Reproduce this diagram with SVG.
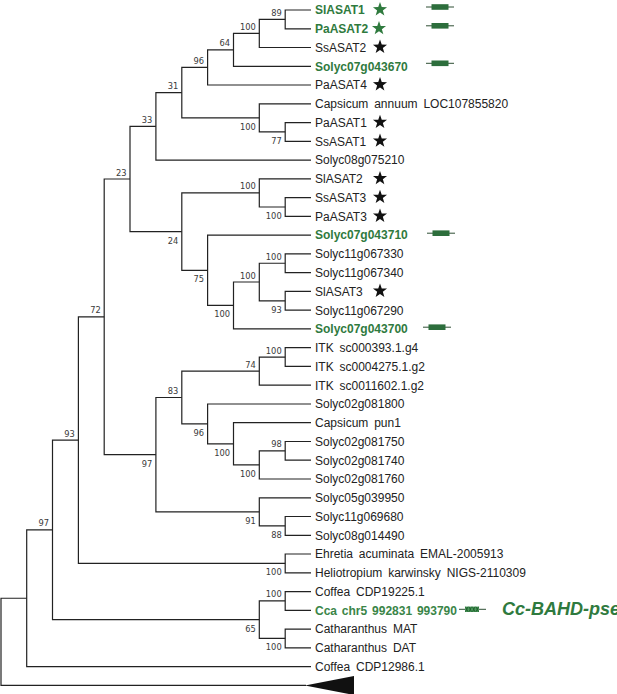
<svg xmlns="http://www.w3.org/2000/svg" xmlns:xlink="http://www.w3.org/1999/xlink" width="617" height="694" viewBox="0 0 617 694">
<style>
.br{fill:none;stroke:#222;stroke-width:1.2}
.lf{font-family:"Liberation Sans",Arial,sans-serif;font-size:12px;fill:#222;word-spacing:2.5px}
.lg{font-family:"Liberation Sans",Arial,sans-serif;font-size:12px;font-weight:bold;fill:#2f7a3e}
.lc{font-family:"Liberation Sans",Arial,sans-serif;font-size:12px;font-weight:bold;fill:#3a8548;word-spacing:1.5px}
.bs{font-family:"DejaVu Sans",Verdana,sans-serif;font-size:8.3px;fill:#3a3a3a;text-anchor:end}
.sb{fill:#111}
.sg{fill:#2f7a3e}
.big{font-family:"Liberation Sans",Arial,sans-serif;font-size:18px;font-weight:bold;font-style:italic;fill:#2f7a3e}
</style>
<defs>
<polygon id="star" points="0,-7.4 1.76,-2.42 7.04,-2.29 2.85,0.93 4.35,5.99 0,3.0 -4.35,5.99 -2.85,0.93 -7.04,-2.29 -1.76,-2.42"/>
<g id="gene"><line x1="-14" y1="0" x2="14" y2="0" stroke="#2f4f35" stroke-width="1"/><rect x="-8.5" y="-2.8" width="17" height="5.6" fill="#2d6e3c"/></g>
</defs>
<g id="branches">
<path class="br" d="M311 10 H285.2 V28.8 H311"/>
<path class="br" d="M285.2 19.4 H259.3 V47.5 H311"/>
<path class="br" d="M259.3 33.45 H233.5 V66.3 H311"/>
<path class="br" d="M233.5 49.9 H207.6 V85 H311"/>
<path class="br" d="M311 122.6 H285.2 V141.3 H311"/>
<path class="br" d="M311 103.8 H259.3 V131.95 H285.2"/>
<path class="br" d="M207.6 67.45 H181.8 V117.9 H259.3"/>
<path class="br" d="M181.8 92.7 H155.9 V160.1 H311"/>
<path class="br" d="M311 197.6 H285.2 V216.4 H311"/>
<path class="br" d="M311 178.8 H259.3 V207 H285.2"/>
<path class="br" d="M311 253.9 H285.2 V272.6 H311"/>
<path class="br" d="M311 291.4 H285.2 V310.2 H311"/>
<path class="br" d="M285.2 263.25 H259.3 V300.8 H285.2"/>
<path class="br" d="M259.3 282 H233.5 V328.9 H311"/>
<path class="br" d="M311 235.1 H207.6 V305.45 H233.5"/>
<path class="br" d="M259.3 192.9 H181.8 V270.3 H207.6"/>
<path class="br" d="M155.9 126.4 H130 V231.6 H181.8"/>
<path class="br" d="M311 347.7 H285.2 V366.4 H311"/>
<path class="br" d="M285.2 357.05 H259.3 V385.2 H311"/>
<path class="br" d="M311 441.5 H285.2 V460.2 H311"/>
<path class="br" d="M285.2 450.85 H259.3 V479 H311"/>
<path class="br" d="M311 422.7 H233.5 V464.9 H259.3"/>
<path class="br" d="M311 404 H207.6 V443.8 H233.5"/>
<path class="br" d="M259.3 371.1 H181.8 V423.9 H207.6"/>
<path class="br" d="M311 516.5 H285.2 V535.3 H311"/>
<path class="br" d="M311 497.8 H259.3 V525.9 H285.2"/>
<path class="br" d="M181.8 397.5 H155.9 V511.85 H259.3"/>
<path class="br" d="M130 179 H104.2 V454.7 H155.9"/>
<path class="br" d="M311 554 H285.2 V572.8 H311"/>
<path class="br" d="M104.2 316.85 H78.4 V563.4 H285.2"/>
<path class="br" d="M311 591.6 H285.2 V610.3 H311"/>
<path class="br" d="M311 629.1 H285.2 V647.8 H311"/>
<path class="br" d="M285.2 600.95 H259.3 V638.45 H285.2"/>
<path class="br" d="M78.4 440.1 H52.5 V619.7 H259.3"/>
<path class="br" d="M52.5 529.9 H26.7 V666.6 H311"/>
<path class="br" d="M26.7 598.25 H1 V685.4 H306"/>
<polygon id="collapsed" points="305,685.4 354,676 354,695" fill="#111"/>
</g>
<g id="support">
<text class="bs" x="281.7" y="15.9">89</text>
<text class="bs" x="255.8" y="29.95">100</text>
<text class="bs" x="230" y="46.4">64</text>
<text class="bs" x="204.1" y="63.95">96</text>
<text class="bs" x="281.7" y="143.95">77</text>
<text class="bs" x="255.8" y="129.9">100</text>
<text class="bs" x="178.3" y="89.2">31</text>
<text class="bs" x="152.4" y="122.9">33</text>
<text class="bs" x="281.7" y="219">100</text>
<text class="bs" x="255.8" y="189.4">100</text>
<text class="bs" x="281.7" y="259.75">100</text>
<text class="bs" x="281.7" y="312.8">93</text>
<text class="bs" x="255.8" y="278.5">100</text>
<text class="bs" x="230" y="317.45">100</text>
<text class="bs" x="204.1" y="282.3">75</text>
<text class="bs" x="178.3" y="243.6">24</text>
<text class="bs" x="126.5" y="175.5">23</text>
<text class="bs" x="281.7" y="353.55">100</text>
<text class="bs" x="255.8" y="367.6">74</text>
<text class="bs" x="281.7" y="447.35">98</text>
<text class="bs" x="255.8" y="476.9">100</text>
<text class="bs" x="230" y="455.8">100</text>
<text class="bs" x="204.1" y="435.9">96</text>
<text class="bs" x="178.3" y="394">83</text>
<text class="bs" x="281.7" y="537.9">88</text>
<text class="bs" x="255.8" y="523.85">91</text>
<text class="bs" x="152.4" y="466.7">97</text>
<text class="bs" x="100.7" y="313.35">72</text>
<text class="bs" x="281.7" y="575.4">100</text>
<text class="bs" x="74.9" y="436.6">93</text>
<text class="bs" x="281.7" y="597.45">100</text>
<text class="bs" x="281.7" y="650.45">100</text>
<text class="bs" x="255.8" y="631.7">65</text>
<text class="bs" x="49" y="526.4">97</text>
</g>
<g id="leaf-SlASAT1"><text class="lg" x="315" y="14.3">SlASAT1</text><use href="#star" class="sg" x="380" y="9.5"/><use href="#gene" x="440" y="7"/></g>
<g id="leaf-PaASAT2"><text class="lg" x="315" y="33.1">PaASAT2</text><use href="#star" class="sg" x="379" y="28.3"/><use href="#gene" x="440" y="25.8"/></g>
<g id="leaf-SsASAT2"><text class="lf" x="315" y="51.8">SsASAT2</text><use href="#star" class="sb" x="380" y="47"/></g>
<g id="leaf-Solyc07g043670"><text class="lg" x="315" y="70.6">Solyc07g043670</text><use href="#gene" x="440" y="63.3"/></g>
<g id="leaf-PaASAT4"><text class="lf" x="315" y="89.3">PaASAT4</text><use href="#star" class="sb" x="380" y="84.5"/></g>
<g id="leaf-Capsicum-LOC"><text class="lf" x="315" y="108.1">Capsicum annuum LOC107855820</text></g>
<g id="leaf-PaASAT1"><text class="lf" x="315" y="126.9">PaASAT1</text><use href="#star" class="sb" x="380" y="122.1"/></g>
<g id="leaf-SsASAT1"><text class="lf" x="315" y="145.6">SsASAT1</text><use href="#star" class="sb" x="380" y="140.8"/></g>
<g id="leaf-Solyc08g075210"><text class="lf" x="315" y="164.4">Solyc08g075210</text></g>
<g id="leaf-SlASAT2"><text class="lf" x="315" y="183.1">SlASAT2</text><use href="#star" class="sb" x="380" y="178.3"/></g>
<g id="leaf-SsASAT3"><text class="lf" x="315" y="201.9">SsASAT3</text><use href="#star" class="sb" x="380" y="197.1"/></g>
<g id="leaf-PaASAT3"><text class="lf" x="315" y="220.7">PaASAT3</text><use href="#star" class="sb" x="380" y="215.9"/></g>
<g id="leaf-Solyc07g043710"><text class="lg" x="315" y="239.4">Solyc07g043710</text><use href="#gene" x="441" y="233.2"/></g>
<g id="leaf-Solyc11g067330"><text class="lf" x="315" y="258.2">Solyc11g067330</text></g>
<g id="leaf-Solyc11g067340"><text class="lf" x="315" y="276.9">Solyc11g067340</text></g>
<g id="leaf-SlASAT3"><text class="lf" x="315" y="295.7">SlASAT3</text><use href="#star" class="sb" x="380" y="290.9"/></g>
<g id="leaf-Solyc11g067290"><text class="lf" x="315" y="314.5">Solyc11g067290</text></g>
<g id="leaf-Solyc07g043700"><text class="lg" x="315" y="333.2">Solyc07g043700</text><use href="#gene" x="437" y="327.2"/></g>
<g id="leaf-ITK393"><text class="lf" x="315" y="352">ITK sc000393.1.g4</text></g>
<g id="leaf-ITK4275"><text class="lf" x="315" y="370.7">ITK sc0004275.1.g2</text></g>
<g id="leaf-ITK11602"><text class="lf" x="315" y="389.5">ITK sc0011602.1.g2</text></g>
<g id="leaf-Solyc02g081800"><text class="lf" x="315" y="408.3">Solyc02g081800</text></g>
<g id="leaf-Capsicum-pun1"><text class="lf" x="315" y="427">Capsicum pun1</text></g>
<g id="leaf-Solyc02g081750"><text class="lf" x="315" y="445.8">Solyc02g081750</text></g>
<g id="leaf-Solyc02g081740"><text class="lf" x="315" y="464.5">Solyc02g081740</text></g>
<g id="leaf-Solyc02g081760"><text class="lf" x="315" y="483.3">Solyc02g081760</text></g>
<g id="leaf-Solyc05g039950"><text class="lf" x="315" y="502.1">Solyc05g039950</text></g>
<g id="leaf-Solyc11g069680"><text class="lf" x="315" y="520.8">Solyc11g069680</text></g>
<g id="leaf-Solyc08g014490"><text class="lf" x="315" y="539.6">Solyc08g014490</text></g>
<g id="leaf-Ehretia"><text class="lf" x="315" y="558.3">Ehretia acuminata EMAL-2005913</text></g>
<g id="leaf-Heliotropium"><text class="lf" x="315" y="577.1">Heliotropium karwinsky NIGS-2110309</text></g>
<g id="leaf-CoffeaCDP19225"><text class="lf" x="315" y="595.9">Coffea CDP19225.1</text></g>
<g id="leaf-Cca"><text class="lc" x="315" y="614.6">Cca chr5 992831 993790</text>
<line x1="459" y1="609.3" x2="486" y2="609.3" stroke="#2f4f35" stroke-width="1"/>
<rect x="465" y="606.6" width="14" height="5.4" fill="#4a9a5a"/>
<path d="M465.5 606.8 l2.5 5 M468 606.8 l-2.5 5 M469 606.8 l2.5 5 M471.5 606.8 l-2.5 5 M472.5 606.8 l2.5 5 M475 606.8 l-2.5 5 M476 606.8 l2.5 5 M478.5 606.8 l-2.5 5" stroke="#1f5a2c" stroke-width="0.9" fill="none"/>
<text class="big" x="502" y="615">Cc-BAHD-pse</text></g>
<g id="leaf-CatharanthusMAT"><text class="lf" x="315" y="633.4">Catharanthus MAT</text></g>
<g id="leaf-CatharanthusDAT"><text class="lf" x="315" y="652.1">Catharanthus DAT</text></g>
<g id="leaf-CoffeaCDP12986"><text class="lf" x="315" y="670.9">Coffea CDP12986.1</text></g>
</svg>
